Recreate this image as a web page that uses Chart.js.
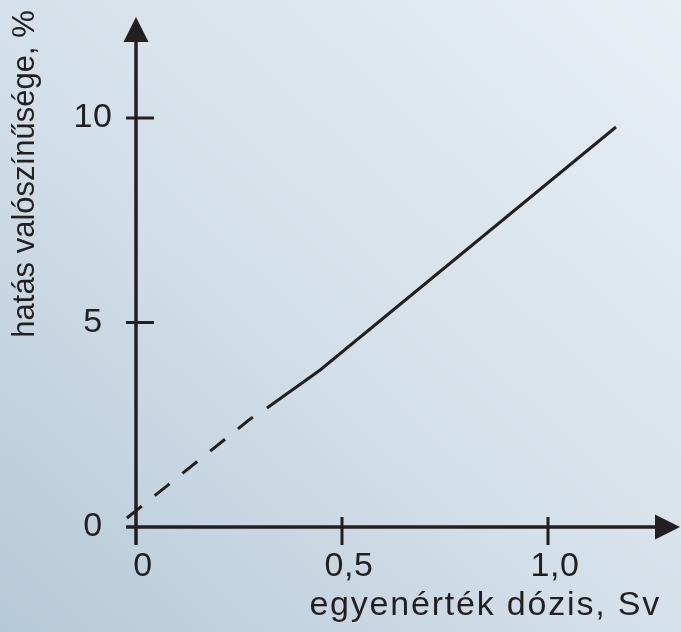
<!DOCTYPE html>
<html>
<head>
<meta charset="utf-8">
<script src="https://cdn.jsdelivr.net/npm/chart.js@4/dist/chart.umd.min.js"></script>
<style>
  html, body { margin: 0; padding: 0; }
  body {
    width: 681px; height: 632px; overflow: hidden;
    background: linear-gradient(to top right, #b6c9d8 0%, #d3dfe9 45%, #e9eff5 100%);
  }
  #wrap { position: relative; width: 681px; height: 632px; }
</style>
</head>
<body>
<div id="wrap"><canvas id="myChart" width="681" height="632"></canvas></div>
<script>
// dose (Sv) vs probability of effect (%)
const doseValues = [-0.022, 0.277, 0.318, 0.447, 1.165];
const effectValues = [0.22, 2.64, 2.91, 3.84, 9.78];
const dashedUntil = 2; // segments before this point index are dashed (extrapolated part)

const xTickValues = [0, 0.5, 1.0];
const xTickLabels = ['0', '0,5', '1,0'];
const yTickValues = [0, 5, 10];
const yTickLabels = ['0', '5', '10'];

const xTitle = 'egyenérték dózis, Sv';
const yTitle = 'hatás valószínűsége, %';

const INK = '#231f20';
const FAMILY = '"Liberation Sans", Arial, sans-serif';

const axesPlugin = {
  id: 'arrowAxes',
  beforeDatasetsDraw(chart) {
    const ctx = chart.ctx;
    const xs = chart.scales.x;
    const ys = chart.scales.y;
    const x0 = xs.getPixelForValue(0);
    const y0 = ys.getPixelForValue(0);
    const area = chart.chartArea;

    ctx.save();
    ctx.strokeStyle = INK;
    ctx.fillStyle = INK;
    ctx.lineWidth = 3.5;
    ctx.lineCap = 'butt';

    // x axis
    ctx.beginPath();
    ctx.moveTo(x0 - 10, y0);
    ctx.lineTo(area.right - 20, y0);
    ctx.stroke();
    ctx.beginPath();
    ctx.moveTo(area.right, y0);
    ctx.lineTo(area.right - 25, y0 - 12.5);
    ctx.lineTo(area.right - 25, y0 + 12.5);
    ctx.closePath();
    ctx.fill();

    // y axis
    ctx.beginPath();
    ctx.moveTo(x0, y0 + 18);
    ctx.lineTo(x0, area.top + 20);
    ctx.stroke();
    ctx.beginPath();
    ctx.moveTo(x0, area.top);
    ctx.lineTo(x0 - 12.5, area.top + 25);
    ctx.lineTo(x0 + 12.5, area.top + 25);
    ctx.closePath();
    ctx.fill();

    // tick marks
    ctx.lineWidth = 3;
    xTickValues.forEach(v => {
      if (v === 0) return;
      const px = xs.getPixelForValue(v);
      ctx.beginPath();
      ctx.moveTo(px, y0 - 10);
      ctx.lineTo(px, y0 + 18);
      ctx.stroke();
    });
    yTickValues.forEach(v => {
      if (v === 0) return;
      const py = ys.getPixelForValue(v);
      ctx.beginPath();
      ctx.moveTo(x0 - 10, py);
      ctx.lineTo(x0 + 18, py);
      ctx.stroke();
    });

    // tick labels
    ctx.font = '34px ' + FAMILY;
    ctx.letterSpacing = '0.5px';
    ctx.textAlign = 'center';
    ctx.textBaseline = 'middle';
    xTickValues.forEach((v, i) => {
      ctx.fillText(xTickLabels[i], xs.getPixelForValue(v) + 7, y0 + 40);
    });
    yTickValues.forEach((v, i) => {
      ctx.fillText(yTickLabels[i], 93, ys.getPixelForValue(v));
    });

    // axis titles
    ctx.font = '34px ' + FAMILY;
    ctx.letterSpacing = '1.8px';
    ctx.textAlign = 'right';
    ctx.textBaseline = 'alphabetic';
    ctx.fillText(xTitle, 661, 615);

    ctx.font = '31px ' + FAMILY;
    ctx.letterSpacing = '0px';
    ctx.translate(34, 174);
    ctx.rotate(-Math.PI / 2);
    ctx.textAlign = 'center';
    ctx.fillText(yTitle, 0, 0);
    ctx.restore();
  }
};

const points = doseValues.map((x, i) => ({ x: x, y: effectValues[i] }));

new Chart(document.getElementById('myChart'), {
  type: 'scatter',
  data: {
    datasets: [{
      data: points,
      showLine: true,
      borderColor: INK,
      borderWidth: 3,
      pointRadius: 0,
      tension: 0,
      clip: false,
      segment: {
        borderDash: c => c.p1DataIndex <= dashedUntil ? [19, 16.6] : undefined
      }
    }]
  },
  options: {
    responsive: false,
    animation: false,
    layout: { padding: { left: 120, right: 1, top: 17, bottom: 87 } },
    plugins: { legend: { display: false }, tooltip: { enabled: false } },
    scales: {
      x: { type: 'linear', display: false, min: -16 / 412, max: 544 / 412 },
      y: { type: 'linear', display: false, min: -18 / 40.9, max: 510 / 40.9 }
    }
  },
  plugins: [axesPlugin]
});
</script>
</body>
</html>
